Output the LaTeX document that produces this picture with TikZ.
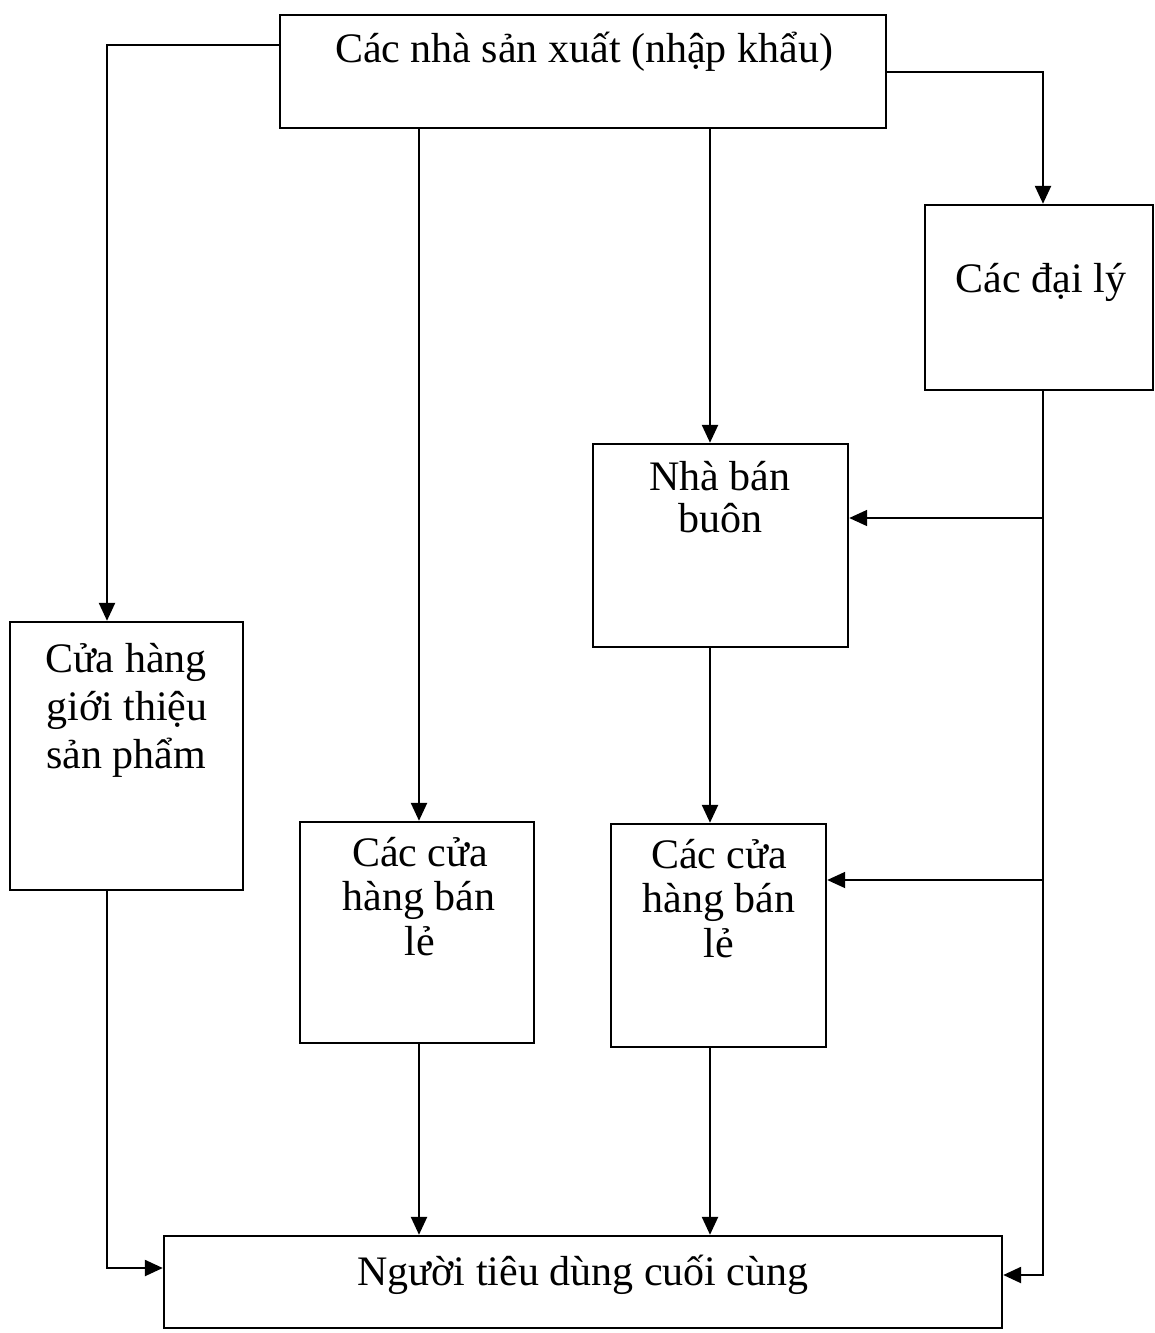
\documentclass[tikz,border=0pt]{standalone}
\usepackage{fontspec}
\setmainfont{Liberation Serif}
\usetikzlibrary{arrows.meta}
\begin{document}
\begin{tikzpicture}[x=0.5pt,y=-0.5pt,
  box/.style={draw,line width=1.2pt,rectangle,inner sep=0pt},
  txt/.style={inner sep=0pt,anchor=base,font=\fontsize{21}{24}\selectfont},
  arr/.style={line width=1.2pt,-{Triangle[length=9pt,width=8pt]}},
  ln/.style={line width=1.2pt}]
\useasboundingbox[fill=white] (0,0) rectangle (1155,1333);
% boxes
\node[box,minimum width=303pt,minimum height=56.5pt] (top) at (583,71.5) {};
\node[box,minimum width=114pt,minimum height=92.5pt] (daily) at (1039,297.5) {};
\node[box,minimum width=127.5pt,minimum height=101.5pt] (ws) at (720.5,545.5) {};
\node[box,minimum width=116.5pt,minimum height=134pt] (show) at (126.5,756) {};
\node[box,minimum width=117pt,minimum height=110.5pt] (rl1) at (417,932.5) {};
\node[box,minimum width=107.5pt,minimum height=111.5pt] (rl2) at (718.5,935.5) {};
\node[box,minimum width=419pt,minimum height=46pt] (cons) at (583,1282) {};
% texts
\node[txt] (t1) at (584,62) {Các nhà sản xuất (nhập khẩu)};
\node[txt] (t2) at (1041,292) {Các đại lý};
\node[txt] (t3a) at (720,490) {Nhà bán};
\node[txt] (t3b) at (720,532) {buôn};
\node[txt] (t4a) at (126,672) {Cửa hàng};
\node[txt] (t4b) at (127,720) {giới thiệu};
\node[txt] (t4c) at (126,768) {sản phẩm};
\node[txt] (t5a) at (420,866) {Các cửa};
\node[txt] (t5b) at (419,910) {hàng bán};
\node[txt] (t5c) at (420,955) {lẻ};
\node[txt] (t6a) at (719,868) {Các cửa};
\node[txt] (t6b) at (719,912) {hàng bán};
\node[txt] (t6c) at (719,957) {lẻ};
\node[txt] (t7) at (583,1285) {Người tiêu dùng cuối cùng};
% helper coordinates
\coordinate (c1) at (107,45);
\coordinate (c2) at (419,0);
\coordinate (c3) at (710,0);
\coordinate (c4) at (1043,72);
\coordinate (c5) at (1043,1275);
\coordinate (c6) at (107,1268);
\coordinate (b1) at (1043,518);
\coordinate (b2) at (1043,880);
% connectors
\draw[arr] (top.west|-c1) -| (show.north-|c1);
\draw[arr] (top.south-|c2) -- (rl1.north-|c2);
\draw[arr] (top.south-|c3) -- (ws.north-|c3);
\draw[arr] (top.east|-c4) -| (daily.north-|c4);
\draw[arr] (daily.south-|c4) |- (cons.east|-c5);
\draw[arr,line width=0.9pt] (b1) -- (ws.east|-b1);
\draw[arr,line width=0.9pt] (b2) -- (rl2.east|-b2);
\draw[arr] (ws.south-|c3) -- (rl2.north-|c3);
\draw[arr] (show.south-|c1) |- (cons.west|-c6);
\draw[arr] (rl1.south-|c2) -- (cons.north-|c2);
\draw[arr] (rl2.south-|c3) -- (cons.north-|c3);
\end{tikzpicture}
\end{document}
